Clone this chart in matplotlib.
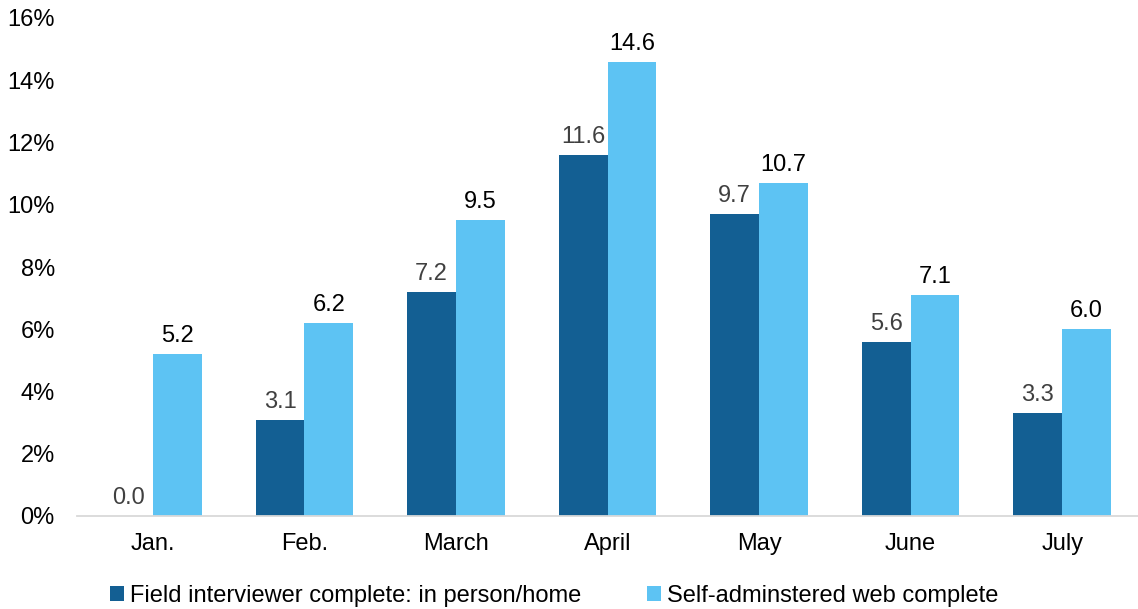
import matplotlib
matplotlib.use("Agg")
import matplotlib.pyplot as plt
import numpy as np

categories = ["Jan.", "Feb.", "March", "April", "May", "June", "July"]
field_values = [0.0, 3.1, 7.2, 11.6, 9.7, 5.6, 3.3]
web_values = [5.2, 6.2, 9.5, 14.6, 10.7, 7.1, 6.0]
series_names = ["Field interviewer complete: in person/home", "Self-adminstered web complete"]
yticks = [0, 2, 4, 6, 8, 10, 12, 14, 16]

plt.rcParams['font.family'] = ['Liberation Sans', 'DejaVu Sans']

dark = '#135F93'
light = '#5DC3F3'
fs = 17

fig = plt.figure(figsize=(11.38, 6.09), dpi=100)
ax = fig.add_axes([77/1138, 93/609, 1061/1138, 498/609])

x = np.arange(len(categories))
w = 0.322
b1 = ax.bar(x - w/2, field_values, width=w, color=dark, label=series_names[0])
b2 = ax.bar(x + w/2, web_values, width=w, color=light, label=series_names[1])

for xi, v in zip(x - w/2, field_values):
    ax.annotate(f"{v:.1f}", (xi, v), xytext=(0, 5), textcoords='offset points',
                ha='center', va='bottom', fontsize=fs, color='#404040')
for xi, v in zip(x + w/2, web_values):
    ax.annotate(f"{v:.1f}", (xi, v), xytext=(0, 5), textcoords='offset points',
                ha='center', va='bottom', fontsize=fs, color='black')

ax.set_xlim(-0.5, len(categories) - 0.5)
ax.set_ylim(0, 16)
ax.set_yticks(yticks)
ax.set_yticklabels([f"{t}%" for t in yticks])
ax.set_xticks(x)
ax.set_xticklabels(categories)
ax.tick_params(axis='both', length=0, labelsize=fs, colors='black')
ax.tick_params(axis='y', pad=16)
ax.tick_params(axis='x', pad=12)

for s in ['top', 'right', 'left']:
    ax.spines[s].set_visible(False)
ax.spines['bottom'].set_color('#D9D9D9')
ax.spines['bottom'].set_linewidth(1.3)

fig.legend(handles=[b1, b2], labels=series_names, loc='center', bbox_to_anchor=(554/1138, 1 - 596/609),
           ncol=2, frameon=False, fontsize=fs, handlelength=0.6, handleheight=0.6,
           handletextpad=0.25, columnspacing=2.8)

fig.savefig("out.png", dpi=100)
